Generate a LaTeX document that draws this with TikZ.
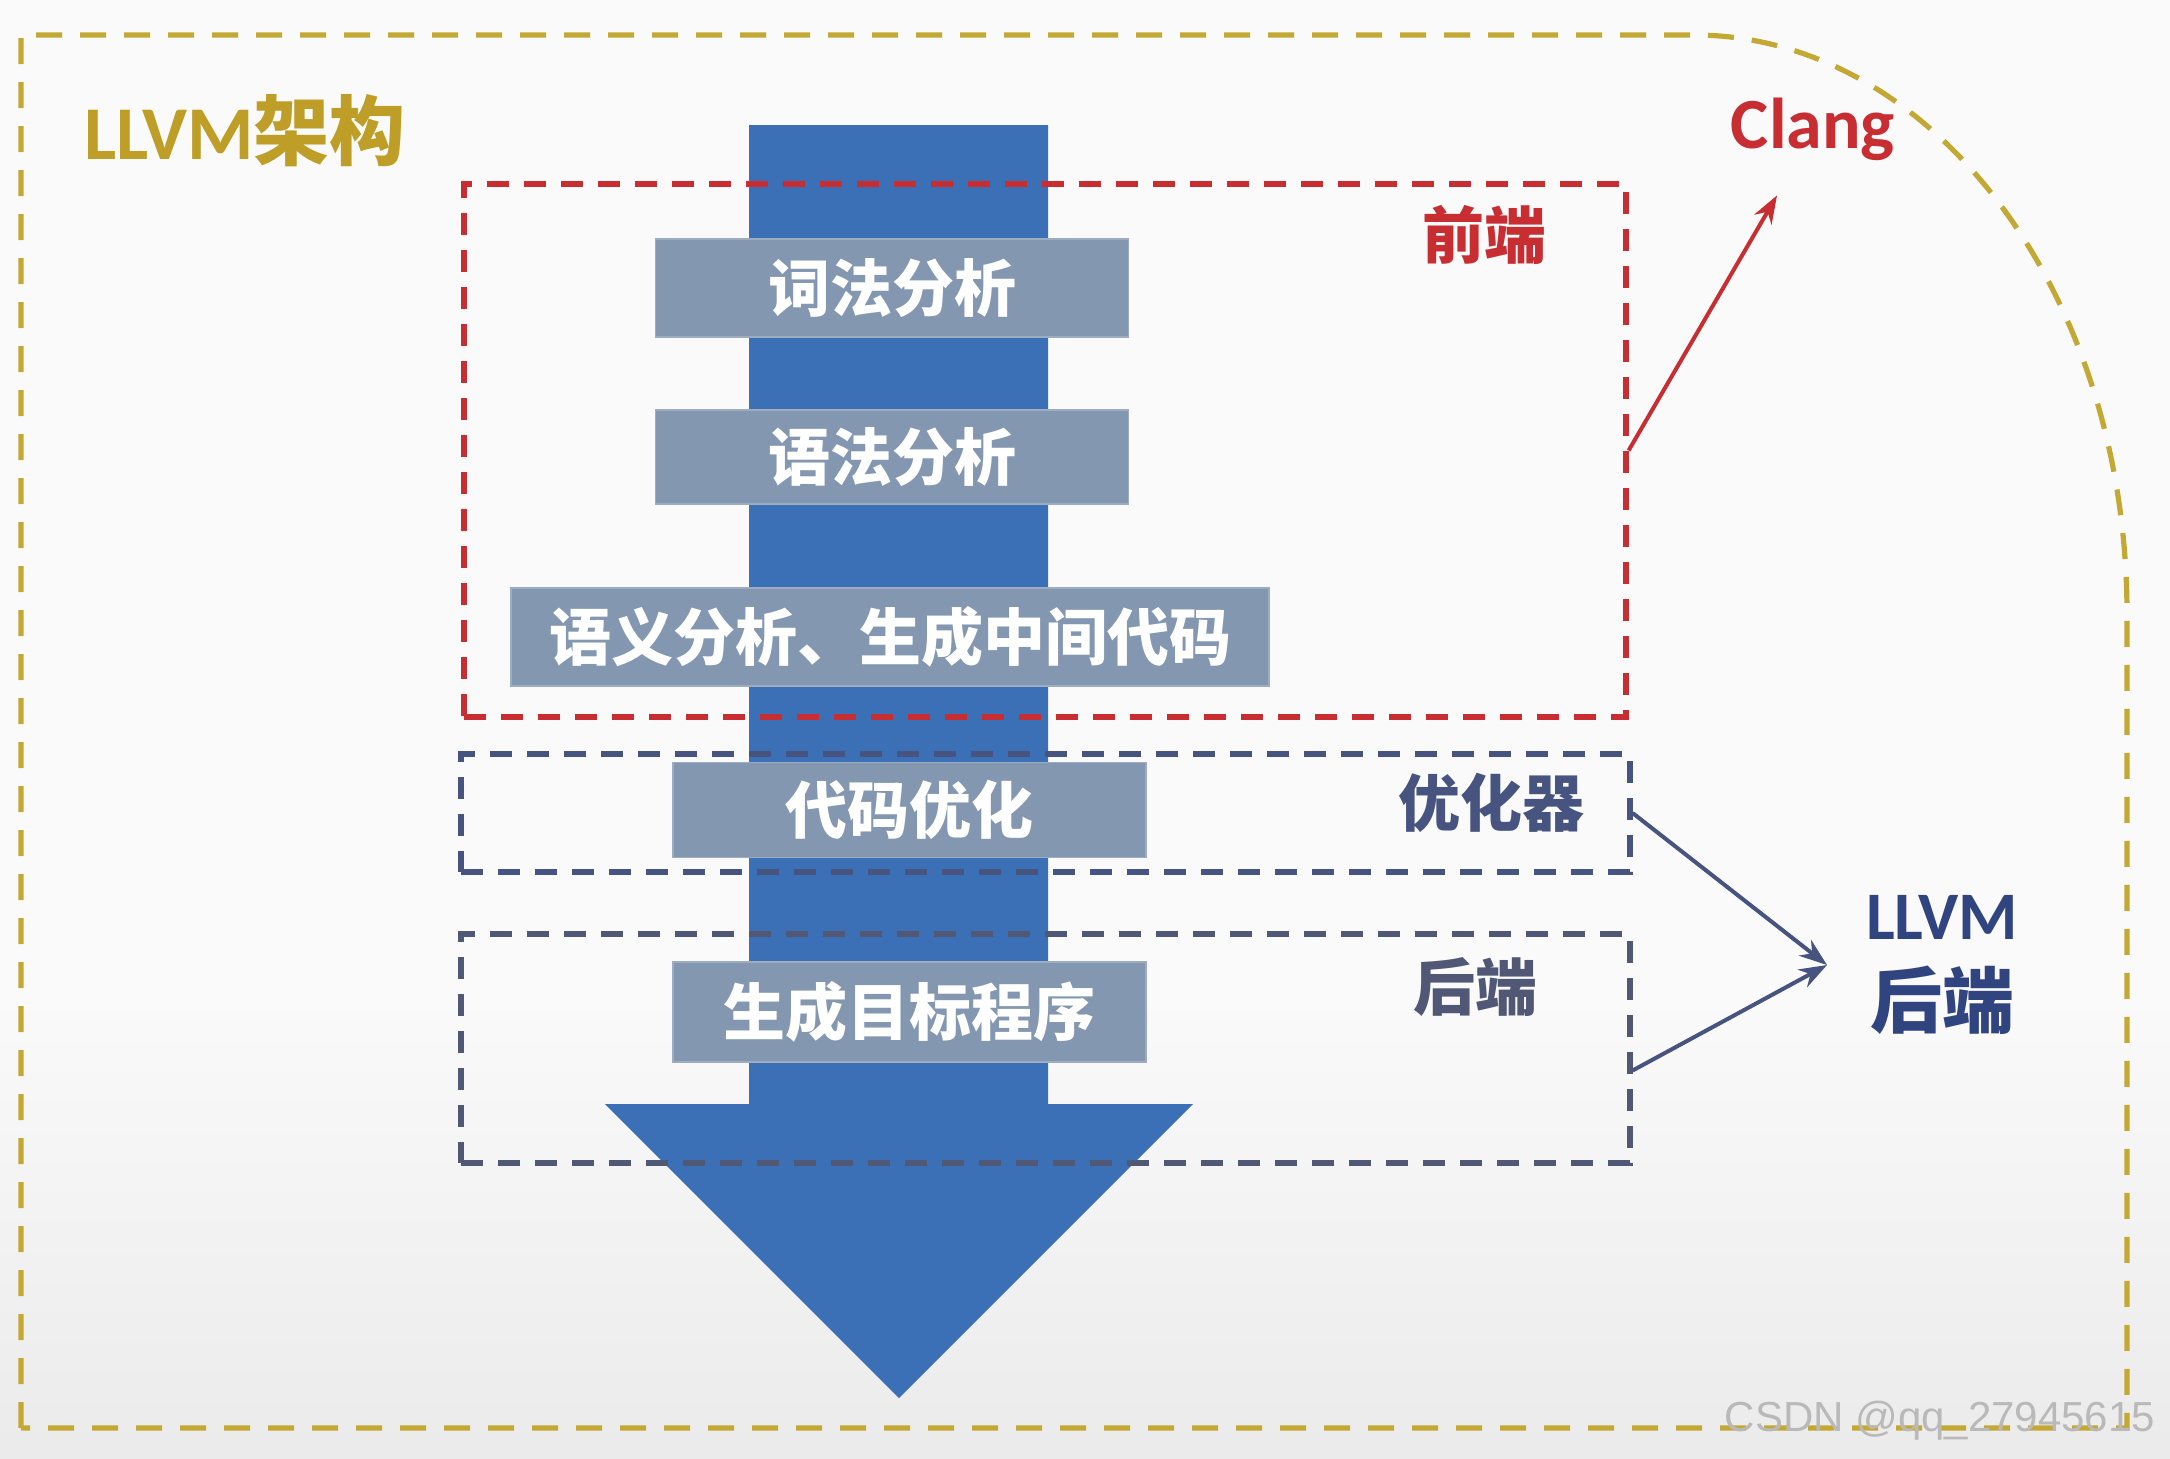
\documentclass[tikz,border=0pt]{standalone}
\usepackage{fontspec}
\setmainfont{Carlito}
\newfontfamily\cjkfont{Noto Sans CJK SC}
\newfontfamily\markfont{Liberation Sans}
\usepackage{xcolor}
\definecolor{archgold}{RGB}{196, 168, 52}
\definecolor{archtext}{RGB}{190, 158, 38}
\definecolor{flowblue}{RGB}{60, 112, 182}
\definecolor{stepgray}{RGB}{132, 151, 177}
\definecolor{frontred}{RGB}{200, 45, 50}
\definecolor{optslate}{RGB}{72, 84, 128}
\definecolor{backslate}{RGB}{80, 88, 118}
\definecolor{llvmblue}{RGB}{48, 68, 128}
\usetikzlibrary{arrows.meta, positioning, calc}

\begin{document}
\begin{tikzpicture}[x=0.5pt, y=-0.5pt, >={Stealth[length=14pt, width=10pt]},
    stepbox/.style={fill=stepgray, draw=stepgray!80!white, line width=0.6pt, text=white,
        inner sep=0pt, minimum width=236.5pt, minimum height=49pt,
        font=\cjkfont\bfseries\fontsize{31}{36}\selectfont},
    phasebox/.style={draw, line width=2.6pt, dash pattern=on 11pt off 7.5pt, inner sep=0pt},
    phaselabel/.style={font=\cjkfont\bfseries\fontsize{31}{36}\selectfont}]
    % page and background
    \useasboundingbox (0,0) rectangle (2170,1458);
    \fill[white!98!black] (0,0) rectangle (2170,1001);
    \shade[top color=white!98!black, bottom color=white!92!black] (0,1000) rectangle (2170,1458);

    % outer frame
    \draw[archgold, line width=2.6pt, dash pattern=on 13pt off 9pt]
        (21,1428) -- (21,35) -- (1694,35) .. controls (1933,35) and (2127,294) .. (2127,614) -- (2127,1428) -- cycle;
    \node[text=archtext, font=\bfseries\fontsize{38}{44}\selectfont] (arch) at (245,131) {LLVM{\cjkfont 架构}};

    % big flow arrow
    \fill[flowblue] (749,125) -- (1048,125) -- (1048,1104) -- (1193,1104) -- (899,1398)
        -- (605,1104) -- (749,1104) -- cycle;

    % phases
    \node[phasebox, draw=frontred, minimum width=581pt, minimum height=266.5pt] (front) at (1045,450.5) {};
    \node[phasebox, draw=optslate, minimum width=584.5pt, minimum height=59pt] (opt) at (1045.5,813) {};
    \node[phasebox, draw=backslate, minimum width=584.5pt, minimum height=114.5pt] (back) at (1045.5,1048.5) {};

    \node[phaselabel, text=frontred] (frontlbl) at (1484,235) {前端};
    \node[phaselabel, text=optslate] (optlbl) at (1491,803) {优化器};
    \node[phaselabel, text=backslate] (backlbl) at (1475,987) {后端};

    % steps
    \node[stepbox] (lex) at (892,288) {词法分析};
    \node[stepbox, minimum height=47pt] (syn) at (892,457) {语法分析};
    \node[stepbox, minimum width=379pt] (sem) at (890,637) {语义分析、生成中间代码};
    \node[stepbox, minimum height=47.5pt] (optim) at (909.5,810) {代码优化};
    \node[stepbox, minimum height=50pt] (gen) at (909.5,1012) {生成目标程序};

    % tools
    \node[text=frontred, font=\bfseries\fontsize{36}{42}\selectfont] (clang) at (1813,129) {Clang};
    \node[text=llvmblue, align=center, font=\bfseries\fontsize{34}{46}\selectfont] (llvmback) at (1942,965)
        {LLVM\\[-2pt]{\cjkfont\fontsize{36}{42}\selectfont 后端}};

    \draw[->, frontred, line width=2pt] (front.east) -- ($(clang.south)+(-36,28)$);
    \draw[->, optslate, line width=2pt] (opt.east) -- ([xshift=-16pt]llvmback.west);
    \draw[->, optslate, line width=2pt] ([yshift=-11pt]back.east) -- ([xshift=-16pt]llvmback.west);

    % watermark
    \node[text=gray!55, font=\markfont\fontsize{21}{25}\selectfont] (mark) at (1940,1421) {CSDN @qq\_27945615};
\end{tikzpicture}
\end{document}
